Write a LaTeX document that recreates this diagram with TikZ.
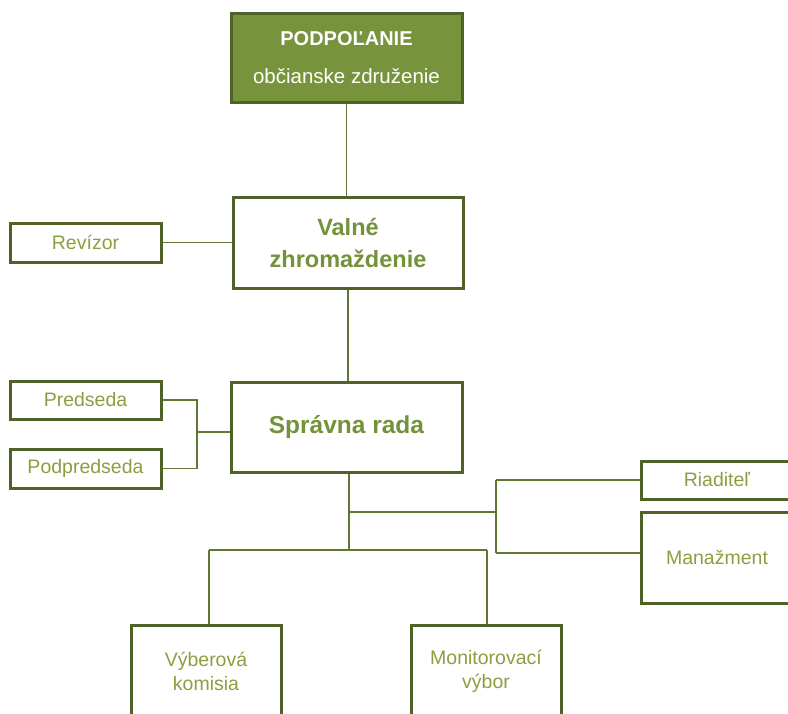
\documentclass[tikz,border=0pt]{standalone}
\usepackage{fontspec}
\setmainfont{Liberation Sans}
\definecolor{boxc}{HTML}{4F6228}
\definecolor{fillc}{HTML}{77933C}
\definecolor{linec}{HTML}{5F7733}
\definecolor{txt}{HTML}{8AA040}
\definecolor{txtb}{HTML}{74923A}
\begin{document}
\begin{tikzpicture}[x=1pt,y=-1pt,
  box/.style={draw=boxc, line width=3pt, fill=white, text=txt, align=center, inner sep=0pt,
    font=\fontsize{19.5}{24}\selectfont},
  bigbox/.style={box, text=txtb, font=\bfseries\fontsize{23.5}{32}\selectfont},
  conn/.style={draw=linec, line width=1.7pt}]
\useasboundingbox (0,0) rectangle (788,713);
\clip (0,0) rectangle (788,713);
\fill[white] (0,0) rectangle (788,713);
% nodes
\node[box, fill=fillc, text=white, minimum width=231pt, minimum height=89pt,
  font=\fontsize{20.5}{38}\selectfont] (top) at (346.5,57.5)
  {\textbf{\fontsize{20}{38}\selectfont PODPOĽANIE}\\občianske združenie};
\node[box, minimum width=151pt, minimum height=39pt] (rev) at (85.5,242.5) {Revízor};
\node[bigbox, minimum width=230pt, minimum height=91pt] (valne) at (348,242.5) {Valné\\zhromaždenie};
\node[box, minimum width=151pt, minimum height=38pt] (pred) at (85.5,400) {Predseda};
\node[box, minimum width=151pt, minimum height=39pt] (podp) at (85.5,468.5) {Podpredseda};
\node[bigbox, minimum width=231pt, minimum height=90pt, font=\bfseries\fontsize{24.5}{32}\selectfont] (sprav) at (346.5,427) {Správna rada};
\node[box, minimum width=152pt, minimum height=38pt] (riad) at (717,480) {Riaditeľ};
\node[box, minimum width=152pt, minimum height=91pt] (man) at (717,557.5) {Manažment};
\node[box, minimum width=150pt, minimum height=92pt] (vyb) at (206,671) {Výberová\\komisia};
\node[box, minimum width=150pt, minimum height=92pt] (mon) at (486,671) {Monitorovací\\výbor};
% connectors
\coordinate (bj) at (197,432);
\coordinate (bt) at (197,400);
\coordinate (bb) at (197,468.5);
\coordinate (s1) at (349,512);
\coordinate (s2) at (349,550);
\coordinate (r1) at (496,512);
\coordinate (rt) at (496,480);
\coordinate (rb) at (496,553);
\coordinate (l1) at (209,550);
\coordinate (l2) at (487,550);
\draw[conn] (top.south) -- (top.south |- valne.north);
\draw[conn] (rev.east) -- (valne.west);
\draw[conn] (valne.south) -- (valne.south |- sprav.north);
\draw[conn] (pred.east) -- (bt) -- (bb) -- (podp.east);
\draw[conn] (bj) -- (bj -| sprav.west);
\draw[conn] (s1 |- sprav.south) -- (s2);
\draw[conn] (s1) -- (r1);
\draw[conn] (rt) -- (rb);
\draw[conn] (rt) -- (riad.west);
\draw[conn] (rb) -- (rb -| man.west);
\draw[conn] (l1) -- (l2);
\draw[conn] (l1) -- (l1 |- vyb.north);
\draw[conn] (l2) -- (l2 |- mon.north);
\end{tikzpicture}
\end{document}
